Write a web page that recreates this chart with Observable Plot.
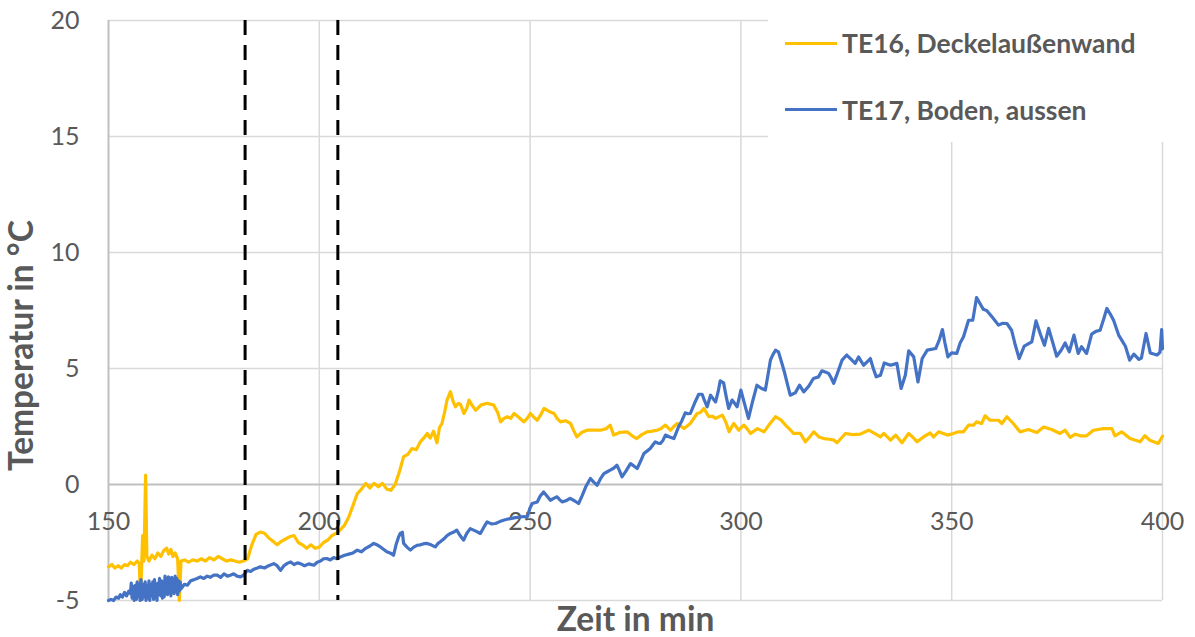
<!DOCTYPE html>
<html>
<head>
<meta charset="utf-8">
<script src="https://cdn.jsdelivr.net/npm/d3@7"></script>
<script src="https://cdn.jsdelivr.net/npm/@observablehq/plot@0.6"></script>
<style>
  html, body { margin: 0; padding: 0; background: #fff; }
  #wrap { position: relative; width: 1195px; height: 637px; font-family: Lato, "Open Sans", sans-serif; }
  #legend { position: absolute; left: 768px; top: 0; width: 427px; height: 142px; background: #fff; }
  .item { position: absolute; left: 17px; display: flex; align-items: center; height: 30px; }
  .swatch { width: 52px; height: 3px; margin-right: 5px; }
  .lbl { font-weight: bold; font-size: 26.5px; color: #595959; white-space: nowrap; }
</style>
</head>
<body>
<div id="wrap"></div>
<script>
// ---- data ----
const xTicks = [150, 200, 250, 300, 350, 400];
const yTicks = [-5, 0, 5, 10, 15, 20];
const phaseMarks = [182.4, 204.4];
const seriesNames = ["TE16, Deckelaußenwand", "TE17, Boden, aussen"];
const seriesColors = ["#FFC000", "#4472C4"];

// TE16 [time min, temperature °C]
const te16 = [
[150.0,-3.55],[150.8,-3.45],[151.5,-3.6],[152.3,-3.5],[153.0,-3.6],[153.8,-3.45],[154.5,-3.5],[155.2,-3.35],
[156.0,-3.45],[156.8,-3.3],[157.3,-3.4],[157.6,-5.0],[157.9,-3.3],[158.1,-2.2],[158.4,-3.3],[158.8,0.4],
[159.1,-3.1],[159.6,-3.3],[160.3,-3.05],[161.0,-3.2],[161.7,-2.95],[162.4,-3.1],[163.1,-2.85],[163.8,-2.75],
[164.3,-3.0],[164.8,-2.8],[165.3,-3.1],[165.8,-2.95],[166.4,-3.2],[166.8,-5.0],[167.2,-3.3],[168.0,-3.25],
[169.0,-3.35],[170.0,-3.25],[171.0,-3.3],[172.0,-3.2],[173.0,-3.3],[174.0,-3.15],[175.0,-3.25],[176.0,-3.1],
[177.0,-3.2],[178.0,-3.3],[179.0,-3.25],[180.0,-3.3],[181.0,-3.35],[182.0,-3.3],[183.0,-3.2],[184.0,-2.6],
[185.0,-2.15],[186.0,-2.05],[187.0,-2.1],[188.0,-2.3],[189.0,-2.45],[190.0,-2.6],[191.0,-2.45],[192.0,-2.35],
[193.0,-2.25],[194.0,-2.2],[195.0,-2.5],[196.0,-2.6],[197.0,-2.75],[198.0,-2.6],[199.0,-2.75],[200.0,-2.7],
[201.0,-2.5],[202.0,-2.4],[203.0,-2.2],[204.0,-2.1],[205.0,-1.95],[206.0,-1.75],[207.0,-1.4],[208.0,-0.9],
[209.0,-0.4],[210.0,-0.2],[211.0,0.05],[212.0,-0.15],[213.0,0.05],[214.0,-0.1],[215.0,0.05],[216.0,-0.2],
[217.0,-0.25],[218.0,0.0],[219.0,0.55],[220.0,1.2],[221.0,1.3],[222.0,1.55],[223.0,1.5],[224.0,1.85],
[225.0,2.05],[225.6,2.2],[226.3,2.0],[227.1,2.3],[227.9,1.8],[228.5,2.45],[229.1,2.63],[229.7,3.1],
[230.3,3.64],[231.1,4.0],[231.7,3.6],[232.3,3.35],[233.0,3.5],[233.5,3.45],[234.3,3.06],[235.0,3.3],
[235.5,3.64],[236.3,3.4],[237.1,3.2],[238.3,3.42],[239.8,3.5],[241.4,3.42],[242.3,3.1],[243.0,2.7],
[243.8,2.85],[244.6,2.92],[245.4,2.85],[246.2,3.06],[247.3,2.9],[248.5,2.7],[249.3,2.85],[250.1,3.06],
[250.9,2.9],[251.7,2.77],[252.5,3.0],[253.3,3.28],[254.5,3.15],[255.7,3.06],[256.4,2.85],[257.2,2.7],
[258.4,2.75],[259.6,2.63],[260.4,2.3],[261.1,2.05],[262.3,2.25],[263.5,2.34],[265.0,2.35],[266.7,2.34],
[268.0,2.4],[269.0,2.56],[269.8,2.13],[271.4,2.25],[273.0,2.27],[274.2,2.1],[275.3,1.98],[276.5,2.15],
[277.7,2.27],[279.0,2.3],[280.1,2.34],[281.0,2.4],[282.1,2.56],[283.3,2.34],[284.1,2.5],[284.9,2.63],
[286.5,2.41],[288.0,2.63],[289.6,3.06],[290.4,3.1],[291.2,3.28],[292.4,2.92],[293.2,2.95],[294.0,2.85],
[295.6,2.99],[296.4,2.7],[297.2,2.27],[298.3,2.63],[299.5,2.34],[300.7,2.56],[301.5,2.4],[302.3,2.2],
[303.9,2.41],[305.5,2.27],[306.8,2.6],[308.2,2.92],[309.4,2.8],[310.6,2.56],[311.5,2.4],[312.5,2.2],
[314.1,2.2],[315.3,1.84],[316.3,2.05],[317.3,2.27],[318.5,2.05],[319.7,1.98],[321.0,1.95],[322.1,1.91],
[322.8,1.8],[324.8,2.2],[326.5,2.15],[328.3,2.17],[330.3,2.34],[331.7,2.2],[333.1,2.05],[333.9,2.2],
[335.5,1.91],[336.7,2.13],[338.2,1.8],[339.8,2.2],[341.0,2.0],[341.8,1.84],[343.3,2.05],[344.9,2.22],
[345.7,2.05],[346.9,2.27],[348.0,2.2],[349.0,2.13],[350.4,2.2],[351.6,2.27],[352.8,2.27],[354.0,2.56],
[355.2,2.56],[355.9,2.7],[357.1,2.63],[357.9,2.96],[359.1,2.77],[361.1,2.77],[361.9,2.63],[363.1,2.92],
[364.6,2.63],[366.2,2.27],[368.2,2.37],[370.2,2.24],[371.8,2.48],[373.7,2.37],[375.7,2.2],[376.9,2.34],
[378.1,2.03],[379.3,2.17],[380.5,2.1],[382.0,2.1],[383.6,2.34],[386.0,2.41],[388.0,2.41],[388.7,2.1],
[390.3,2.27],[392.3,1.98],[394.7,1.84],[395.8,2.1],[397.0,1.91],[399.0,1.77],[400.0,2.08]
];

// TE17 [time min, temperature °C]
const te17 = [
[150.0,-5.0],[150.6,-4.95],[151.2,-5.0],[151.8,-4.85],[152.4,-4.9],[152.8,-4.75],[153.3,-4.85],[153.8,-4.65],
[154.3,-4.8],[154.8,-4.6],[155.2,-4.7],[155.4,-4.25],[155.6,-4.9],[155.9,-4.4],[156.1,-5.0],[156.3,-4.35],
[156.6,-4.95],[156.8,-4.2],[157.0,-4.85],[157.3,-4.3],[157.5,-5.0],[157.7,-4.1],[158.0,-4.95],[158.2,-4.3],
[158.4,-4.85],[158.7,-4.2],[158.9,-5.0],[159.1,-4.35],[159.4,-4.9],[159.6,-4.15],[159.8,-5.0],[160.0,-4.3],
[160.2,-4.8],[160.5,-4.2],[160.7,-4.95],[160.9,-4.1],[161.1,-4.8],[161.3,-4.3],[161.5,-5.0],[161.7,-4.25],
[161.9,-4.75],[162.1,-4.05],[162.4,-4.8],[162.6,-4.15],[162.8,-4.9],[163.0,-4.2],[163.2,-4.85],[163.4,-3.95],
[163.6,-4.7],[163.8,-4.1],[164.0,-4.75],[164.2,-3.98],[164.4,-4.65],[164.6,-4.05],[164.8,-4.8],[165.0,-4.0],
[165.2,-4.6],[165.4,-4.1],[165.6,-4.7],[165.8,-3.95],[166.0,-4.6],[166.2,-4.05],[166.4,-4.75],[166.6,-4.15],
[166.8,-4.6],[167.0,-4.2],[167.2,-4.5],[168.0,-4.3],[168.7,-4.34],[169.5,-4.15],[170.3,-4.1],[171.0,-4.05],
[171.8,-3.98],[172.6,-4.05],[173.4,-3.95],[174.2,-4.0],[175.0,-3.9],[175.8,-3.91],[176.6,-4.0],[177.4,-3.85],
[178.2,-3.95],[178.9,-3.91],[179.7,-3.85],[180.5,-3.95],[181.3,-3.98],[182.1,-3.9],[182.9,-3.7],[183.7,-3.75],
[184.5,-3.65],[185.3,-3.6],[186.0,-3.55],[187.0,-3.6],[188.0,-3.5],[189.2,-3.41],[190.0,-3.5],[190.8,-3.7],
[191.6,-3.5],[192.4,-3.4],[193.2,-3.34],[194.0,-3.45],[194.8,-3.38],[195.5,-3.41],[196.5,-3.5],[197.5,-3.42],
[198.7,-3.48],[199.5,-3.35],[200.3,-3.3],[201.0,-3.2],[201.8,-3.19],[202.6,-3.25],[203.4,-3.15],[204.2,-3.2],
[205.0,-3.12],[206.0,-3.05],[207.0,-3.0],[208.0,-2.95],[209.0,-2.83],[210.0,-2.9],[211.0,-2.75],[212.0,-2.65],
[212.9,-2.54],[213.7,-2.6],[214.5,-2.69],[215.3,-2.8],[216.0,-2.9],[216.8,-2.95],[217.6,-3.05],[218.2,-2.6],
[218.8,-2.26],[219.2,-2.11],[219.7,-2.06],[220.0,-2.54],[220.8,-2.7],[221.6,-2.83],[222.4,-2.7],[223.2,-2.62],
[224.0,-2.6],[224.8,-2.55],[225.6,-2.54],[226.5,-2.6],[227.5,-2.69],[228.1,-2.55],[228.7,-2.47],[229.5,-2.35],
[230.3,-2.2],[231.1,-2.11],[231.9,-2.05],[232.6,-1.97],[233.4,-2.2],[234.2,-2.4],[235.0,-2.1],[235.8,-1.9],
[237.0,-2.0],[238.2,-2.11],[239.0,-1.85],[239.8,-1.61],[240.8,-1.7],[241.8,-1.68],[242.8,-1.6],[243.7,-1.54],
[244.5,-1.5],[245.3,-1.47],[246.5,-1.43],[247.7,-1.4],[248.5,-1.38],[249.3,-1.4],[250.0,-1.0],[250.5,-0.82],
[251.7,-0.75],[252.4,-0.5],[253.2,-0.32],[254.0,-0.5],[254.8,-0.68],[255.6,-0.6],[256.4,-0.53],[257.0,-0.65],
[257.6,-0.75],[258.5,-0.7],[259.5,-0.6],[260.5,-0.7],[261.5,-0.82],[262.3,-0.5],[263.2,-0.1],[264.3,0.26],
[265.1,0.1],[265.9,-0.03],[266.7,0.25],[267.5,0.47],[268.3,0.55],[269.0,0.62],[269.8,0.7],[270.6,0.83],
[271.2,0.6],[271.8,0.33],[272.8,0.6],[273.8,0.9],[274.6,0.8],[275.4,0.69],[276.2,1.0],[277.0,1.34],
[277.8,1.45],[278.5,1.55],[279.1,1.7],[279.7,1.84],[280.3,1.78],[280.9,1.77],[281.5,1.9],[282.1,2.13],
[283.1,2.05],[284.1,1.98],[284.6,2.2],[285.2,2.48],[286.0,2.75],[286.8,3.09],[287.4,3.05],[288.0,3.06],
[289.0,3.5],[290.0,3.89],[290.8,3.89],[291.4,3.6],[292.0,3.35],[292.8,3.85],[293.4,3.7],[294.0,3.56],
[294.6,4.0],[295.1,4.47],[295.9,4.38],[296.5,3.8],[297.1,3.28],[297.9,3.64],[298.5,3.5],[299.1,3.35],
[300.0,4.07],[300.9,3.45],[301.8,2.85],[302.8,3.6],[303.8,4.28],[304.8,4.15],[305.8,4.07],[306.4,4.7],
[307.0,5.36],[307.6,5.6],[308.2,5.79],[308.9,5.72],[309.6,5.3],[310.3,4.86],[311.0,4.35],[311.7,3.85],
[312.3,3.9],[312.9,3.95],[313.9,4.28],[314.9,3.99],[316.1,4.24],[317.2,4.57],[318.4,4.64],[319.2,4.9],
[320.0,4.85],[320.8,4.79],[321.4,4.6],[322.0,4.36],[323.0,4.85],[324.0,5.36],[325.1,5.58],[326.1,5.4],
[327.1,5.22],[327.9,5.5],[329.1,5.14],[330.0,5.3],[330.7,5.43],[331.4,5.0],[332.1,4.64],[333.1,4.71],
[334.0,5.24],[335.5,5.14],[337.0,5.22],[338.0,4.14],[339.0,4.71],[339.8,5.76],[341.0,5.5],[342.0,4.42],
[343.0,5.43],[344.2,5.79],[346.2,5.86],[347.0,6.2],[347.8,6.68],[348.4,6.1],[349.1,5.5],[350.0,5.67],
[351.2,5.65],[352.0,6.1],[352.8,6.37],[354.0,7.08],[355.0,7.08],[355.9,8.06],[356.7,7.8],[357.5,7.55],
[358.3,7.5],[359.7,7.2],[361.1,6.87],[362.1,6.95],[363.1,6.94],[364.2,6.65],[365.1,6.0],[366.0,5.43],
[367.2,5.96],[369.0,6.15],[370.0,7.05],[371.0,6.5],[372.0,6.0],[373.0,6.73],[374.0,6.1],[374.9,5.53],
[376.0,5.8],[376.9,6.1],[377.9,5.72],[379.0,6.44],[380.0,5.65],[380.8,5.94],[382.0,5.65],[383.2,6.48],
[384.2,6.6],[385.2,6.65],[386.0,7.1],[386.8,7.59],[387.6,7.35],[388.4,7.08],[389.6,6.44],[390.4,6.2],
[391.2,5.96],[392.2,5.36],[393.2,5.62],[394.4,5.39],[395.0,5.45],[396.1,6.51],[397.1,5.67],[398.7,5.58],
[399.4,5.7],[399.8,6.68],[400.0,5.85]
];

// ---- chart ----
const grid = "#d9d9d9";
const axisLine = "#bfbfbf";
const textCol = "#595959";
const font = "Lato, 'Open Sans', sans-serif";

const chart = Plot.plot({
  width: 1195,
  height: 637,
  marginTop: 20,
  marginBottom: 37,
  marginLeft: 108,
  marginRight: 33,
  style: { fontFamily: font, background: "#fff", overflow: "visible" },
  x: { domain: [150, 400], axis: null },
  y: { domain: [-5, 20], axis: null },
  marks: [
    Plot.ruleY(yTicks.filter(d => d !== 0), { stroke: grid, strokeWidth: 1.5 }),
    Plot.ruleX(xTicks.filter(d => d !== 150), { stroke: grid, strokeWidth: 1.5 }),
    Plot.ruleX([xTicks[0]], { stroke: axisLine, strokeWidth: 2 }),
    Plot.ruleY([0], { stroke: axisLine, strokeWidth: 2 }),
    Plot.text(yTicks, { y: d => d, frameAnchor: "left", dx: -29, textAnchor: "end", text: d => String(d), fontSize: 25, fill: textCol, fontFamily: font }),
    Plot.text(xTicks, { x: d => d, y: () => 0, dy: 37, text: d => String(d), fontSize: 25, fill: textCol, fontFamily: font }),
    Plot.line(te16, { x: d => d[0], y: d => d[1], stroke: seriesColors[0], strokeWidth: 3.2, strokeLinejoin: "round" }),
    Plot.line(te17, { x: d => d[0], y: d => d[1], stroke: seriesColors[1], strokeWidth: 3.2, strokeLinejoin: "round" }),
    Plot.ruleX(phaseMarks, { stroke: "#000", strokeWidth: 3, strokeDasharray: "15,10" }),
    Plot.text(["Zeit in min"], { frameAnchor: "bottom", textAnchor: "middle", lineAnchor: "middle", dy: 20, fontSize: 33.5, fontWeight: "bold", fill: textCol, fontFamily: font }),
    Plot.text(["Temperatur in °C"], { frameAnchor: "left", textAnchor: "middle", lineAnchor: "middle", dx: -86, dy: 35, rotate: -90, fontSize: 33.5, fontWeight: "bold", fill: textCol, fontFamily: font })
  ]
});

const wrap = document.getElementById("wrap");
wrap.appendChild(chart);

const legend = document.createElement("div");
legend.id = "legend";
const tops = [28, 94.5];
seriesNames.forEach((name, i) => {
  const item = document.createElement("div");
  item.className = "item";
  item.style.top = tops[i] + "px";
  const sw = document.createElement("div");
  sw.className = "swatch";
  sw.style.background = seriesColors[i];
  const lb = document.createElement("span");
  lb.className = "lbl";
  lb.textContent = name;
  item.appendChild(sw);
  item.appendChild(lb);
  legend.appendChild(item);
});
wrap.appendChild(legend);
</script>
</body>
</html>
